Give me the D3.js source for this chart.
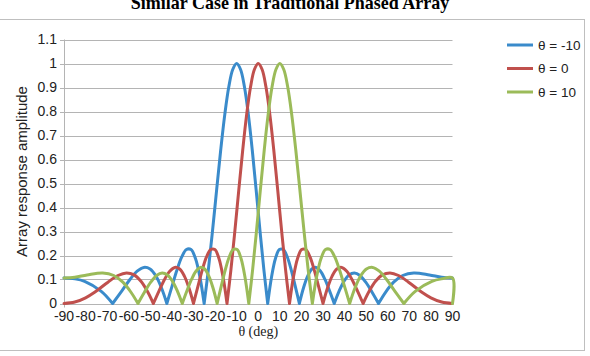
<!DOCTYPE html>
<html>
<head>
<meta charset="utf-8">
<script src="https://cdn.jsdelivr.net/npm/d3@7"></script>
<style>
  body { margin: 0; background: #fff; }
  svg { display: block; }
</style>
</head>
<body>
<div id="chart"></div>
<script>
// steering angles (deg) shown in the legend
const seriesNames = ['θ = -10', 'θ = 0', 'θ = 10'];
const seriesColors = ['#3a8bcb', '#c0504d', '#9bbb59'];

// theta = -10
const thetaA = [-90, -85, -80.45, -72.73, -67.47, -63.18, -59.45, -56.10, -53.00, -50.12, -47.40, -44.82, -42.35, -39.97, -37.67, -35.44, -33.27, -31.16, -29.09, -27.06, -25.07, -23.10, -21.17, -19.26, -17.38, -15.51, -13.66, -11.82, -10, -8.19, -6.38, -4.58, -2.79, -1.00, 0.79, 2.59, 4.38, 6.18, 7.98, 9.79, 11.62, 13.45, 15.30, 17.16, 19.05, 20.95, 22.88, 24.84, 26.83, 28.86, 30.92, 33.03, 35.20, 37.42, 39.71, 42.08, 44.54, 47.11, 49.80, 52.67, 55.72, 59.05, 62.73, 66.94, 72.05, 79.30, 85, 90];
const ampA = [0.1063, 0.1028, 0.0924, 0.0508, 0, 0.0529, 0.1002, 0.1346, 0.1503, 0.1438, 0.1143, 0.0646, 0, 0.0712, 0.1393, 0.1939, 0.2250, 0.2246, 0.1875, 0.1119, 0, 0.1420, 0.3045, 0.4753, 0.6407, 0.7870, 0.9018, 0.9749, 1, 0.9749, 0.9018, 0.7870, 0.6407, 0.4753, 0.3045, 0.1420, 0, 0.1119, 0.1875, 0.2246, 0.2250, 0.1939, 0.1393, 0.0712, 0, 0.0646, 0.1143, 0.1438, 0.1503, 0.1346, 0.1002, 0.0529, 0, 0.0508, 0.0924, 0.1191, 0.1274, 0.1167, 0.0888, 0.0479, 0, 0.0479, 0.0888, 0.1167, 0.1274, 0.1191, 0.1095, 0.1063];

// theta = 0
const thetaB = [-90, -85, -80, -75.64, -69.64, -64.99, -61.05, -57.54, -54.34, -51.38, -48.59, -45.95, -43.43, -41.01, -38.68, -36.42, -34.23, -32.09, -30, -27.95, -25.94, -23.97, -22.02, -20.11, -18.21, -16.34, -14.48, -12.64, -10.81, -8.99, -7.18, -5.38, -3.58, -1.79, 0, 1.79, 3.58, 5.38, 7.18, 8.99, 10.81, 12.64, 14.48, 16.34, 18.21, 20.11, 22.02, 23.97, 25.94, 27.95, 30, 32.09, 34.23, 36.42, 38.68, 41.01, 43.43, 45.95, 48.59, 51.38, 54.34, 57.54, 61.05, 64.99, 69.64, 75.64, 80, 85, 90];
const ampB = [0, 0.0060, 0.0237, 0.0479, 0.0888, 0.1167, 0.1274, 0.1191, 0.0924, 0.0508, 0, 0.0529, 0.1002, 0.1346, 0.1503, 0.1438, 0.1143, 0.0646, 0, 0.0712, 0.1393, 0.1939, 0.2250, 0.2246, 0.1875, 0.1119, 0, 0.1420, 0.3045, 0.4753, 0.6407, 0.7870, 0.9018, 0.9749, 1, 0.9749, 0.9018, 0.7870, 0.6407, 0.4753, 0.3045, 0.1420, 0, 0.1119, 0.1875, 0.2246, 0.2250, 0.1939, 0.1393, 0.0712, 0, 0.0646, 0.1143, 0.1438, 0.1503, 0.1346, 0.1002, 0.0529, 0, 0.0508, 0.0924, 0.1191, 0.1274, 0.1167, 0.0888, 0.0479, 0.0237, 0.0060, 0];

// theta = 10 (last point drops to 0 at 90 like the original)
const thetaC = [-90, -85, -79.30, -72.05, -66.94, -62.73, -59.05, -55.72, -52.67, -49.80, -47.11, -44.54, -42.08, -39.71, -37.42, -35.20, -33.03, -30.92, -28.86, -26.83, -24.84, -22.88, -20.95, -19.05, -17.16, -15.30, -13.45, -11.62, -9.79, -7.98, -6.18, -4.38, -2.59, -0.79, 1.00, 2.79, 4.58, 6.38, 8.19, 10, 11.82, 13.66, 15.51, 17.38, 19.26, 21.17, 23.10, 25.07, 27.06, 29.09, 31.16, 33.27, 35.44, 37.67, 39.97, 42.35, 44.82, 47.40, 50.12, 53.00, 56.10, 59.45, 63.18, 67.47, 72.73, 80.45, 85, 90, 90];
const ampC = [0.1063, 0.1095, 0.1191, 0.1274, 0.1167, 0.0888, 0.0479, 0, 0.0479, 0.0888, 0.1167, 0.1274, 0.1191, 0.0924, 0.0508, 0, 0.0529, 0.1002, 0.1346, 0.1503, 0.1438, 0.1143, 0.0646, 0, 0.0712, 0.1393, 0.1939, 0.2250, 0.2246, 0.1875, 0.1119, 0, 0.1420, 0.3045, 0.4753, 0.6407, 0.7870, 0.9018, 0.9749, 1, 0.9749, 0.9018, 0.7870, 0.6407, 0.4753, 0.3045, 0.1420, 0, 0.1119, 0.1875, 0.2246, 0.2250, 0.1939, 0.1393, 0.0712, 0, 0.0646, 0.1143, 0.1438, 0.1503, 0.1346, 0.1002, 0.0529, 0, 0.0508, 0.0924, 0.1028, 0.1063, 0];

const xTicks = d3.range(-90, 91, 10);
const yTicks = d3.range(0, 12).map(i => i / 10);

const width = 590, height = 356;
const plot = {left: 64, right: 452.5, top: 39.5, bottom: 303.5};

const svg = d3.select('#chart').append('svg')
  .attr('width', width)
  .attr('height', height);

svg.append('rect')
  .attr('width', width).attr('height', height)
  .attr('fill', '#fff');

// chart frame
svg.append('rect')
  .attr('x', -5).attr('y', 19.5)
  .attr('width', 589.5).attr('height', 331)
  .attr('fill', 'none')
  .attr('stroke', '#bfbfbf')
  .attr('stroke-width', 1);

// title sits partly above the top edge, as in the original crop
svg.append('text')
  .attr('x', 290).attr('y', 9)
  .attr('text-anchor', 'middle')
  .style('font-family', '"Liberation Serif", "Times New Roman", serif')
  .style('font-weight', 'bold')
  .style('font-size', '18px')
  .text('Similar Case in Traditional Phased Array');

const x = d3.scaleLinear().domain([-90, 90]).range([plot.left, plot.right]);
const y = d3.scaleLinear().domain([0, 1.1]).range([plot.bottom, plot.top]);

// horizontal gridlines
svg.append('g')
  .selectAll('line')
  .data(yTicks)
  .join('line')
  .attr('x1', plot.left - 4)
  .attr('x2', plot.right)
  .attr('y1', d => Math.round(y(d)) + 0.5)
  .attr('y2', d => Math.round(y(d)) + 0.5)
  .attr('stroke', '#b4b4b4')
  .attr('stroke-width', 1);

// left axis line
svg.append('line')
  .attr('x1', plot.left + 0.5).attr('x2', plot.left + 0.5)
  .attr('y1', y(1.1)).attr('y2', y(0) + 4)
  .attr('stroke', '#b4b4b4');

const sans = '"Liberation Sans", Arial, Helvetica, sans-serif';

svg.append('g')
  .selectAll('text')
  .data(yTicks)
  .join('text')
  .attr('x', 57)
  .attr('y', d => y(d) + 4.5)
  .attr('text-anchor', 'end')
  .style('font-family', sans)
  .style('font-size', '14px')
  .style('fill', '#222')
  .text(d => d === 0 ? '0' : d3.format('.1~f')(d));

svg.append('g')
  .selectAll('text')
  .data(xTicks)
  .join('text')
  .attr('x', d => x(d))
  .attr('y', 320.5)
  .attr('text-anchor', 'middle')
  .style('font-family', sans)
  .style('font-size', '14px')
  .style('fill', '#222')
  .text(d => d);

svg.append('text')
  .attr('transform', 'translate(27,' + (plot.top + plot.bottom) / 2 + ') rotate(-90)')
  .attr('text-anchor', 'middle')
  .style('font-family', sans)
  .style('font-size', '15px')
  .style('fill', '#222')
  .text('Array response amplitude');

svg.append('text')
  .attr('x', x(0)).attr('y', 336)
  .attr('text-anchor', 'middle')
  .style('font-family', '"Liberation Serif", "Times New Roman", serif')
  .style('font-size', '14px')
  .style('fill', '#222')
  .text('θ (deg)');

// series: split at the nulls so the V-shaped minima stay sharp
const series = [
  {theta: thetaA, amp: ampA},
  {theta: thetaB, amp: ampB},
  {theta: thetaC, amp: ampC}
];

const lobes = function (pts) {
  const segs = [];
  let cur = [];
  pts.forEach(function (p) {
    cur.push(p);
    if (p.v === 0 && cur.length > 1) {
      segs.push(cur);
      cur = [p];
    }
  });
  if (cur.length > 1) segs.push(cur);
  return segs;
};

const line = d3.line()
  .x(d => x(d.t))
  .y(d => y(d.v))
  .curve(d3.curveCatmullRom.alpha(0.5));

series.forEach(function (s, i) {
  const pts = s.theta.map((t, j) => ({t: t, v: s.amp[j]}));
  const segs = lobes(pts);
  svg.append('path')
    .attr('d', segs.map(seg => line(seg)).join(''))
    .attr('fill', 'none')
    .attr('stroke', seriesColors[i])
    .attr('stroke-width', 3)
    .attr('stroke-linejoin', 'round')
    .attr('stroke-linecap', 'round');
});

// legend
const legend = svg.append('g');
seriesNames.forEach(function (name, i) {
  const ly = 45 + i * 23.5;
  legend.append('line')
    .attr('x1', 507).attr('x2', 533)
    .attr('y1', ly).attr('y2', ly)
    .attr('stroke', seriesColors[i])
    .attr('stroke-width', 3);
  legend.append('text')
    .attr('x', 538).attr('y', ly + 4.5)
    .style('font-family', sans)
    .style('font-size', '13.5px')
    .style('fill', '#222')
    .text(name);
});
</script>
</body>
</html>
